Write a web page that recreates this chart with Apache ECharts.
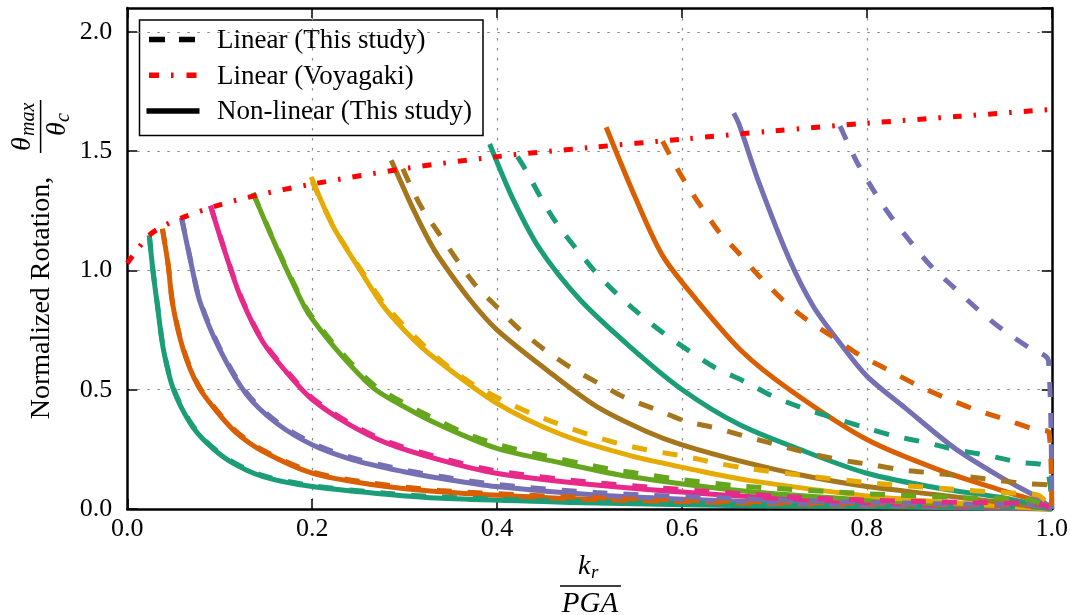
<!DOCTYPE html>
<html><head><meta charset="utf-8">
<script src="https://cdn.jsdelivr.net/npm/echarts@6/dist/echarts.min.js"></script>
<style>html,body{margin:0;padding:0;background:#fff}#c{width:1071px;height:615px}</style>
</head><body><div id="c"></div>
<script>
// ---- data ----
const xTicks = [0.0, 0.2, 0.4, 0.6, 0.8, 1.0];
const yTicks = [0.0, 0.5, 1.0, 1.5, 2.0];
const legendNames = ['Linear (This study)', 'Linear (Voyagaki)', 'Non-linear (This study)'];
const palette = ['#1b9e77', '#d95f02', '#7570b3', '#e7298a', '#66a61e', '#e6ab02', '#a6761d'];

const voyagaki = [[0,1.03],[0.023,1.145],[0.04,1.188],[0.06,1.222],[0.1,1.275],[0.14,1.315],[0.2,1.362],[0.3,1.427],[0.4,1.477],[0.5,1.515],[0.6,1.55],[0.7,1.585],[0.8,1.617],[0.9,1.646],[1.0,1.675]];

// non-linear (solid)
const nl1 = [[0.0238,1.147],[0.028,0.99],[0.033,0.84],[0.039,0.67],[0.05,0.50],[0.068,0.36],[0.086,0.277],[0.111,0.20],[0.147,0.136],[0.2,0.094],[0.28,0.062],[0.34,0.045],[0.45,0.031],[0.507,0.025],[0.672,0.014],[0.8,0.009],[0.9,0.005],[1.0,0]];
const nl2 = [[0.038,1.172],[0.0443,1.02],[0.049,0.86],[0.0605,0.669],[0.0767,0.515],[0.0965,0.41],[0.118,0.319],[0.147,0.241],[0.2,0.150],[0.262,0.104],[0.338,0.072],[0.45,0.048],[0.507,0.04],[0.6,0.031],[0.672,0.025],[0.8,0.015],[0.9,0.008],[1.0,0]];
const nl3 = [[0.0587,1.22],[0.0695,1.02],[0.0785,0.87],[0.1,0.669],[0.129,0.48],[0.161,0.361],[0.2,0.269],[0.244,0.206],[0.298,0.157],[0.338,0.129],[0.399,0.094],[0.507,0.059],[0.672,0.031],[0.8,0.017],[0.9,0.008],[1.0,0]];
const nl4 = [[0.09,1.27],[0.107,1.062],[0.1235,0.88],[0.147,0.698],[0.179,0.543],[0.2,0.459],[0.237,0.361],[0.28,0.277],[0.338,0.206],[0.399,0.15],[0.507,0.101],[0.672,0.052],[0.8,0.027],[0.9,0.013],[1.0,0]];
const nl5 = [[0.136,1.325],[0.154,1.161],[0.172,1.006],[0.192,0.845],[0.2,0.796],[0.226,0.669],[0.266,0.508],[0.305,0.417],[0.338,0.352],[0.399,0.255],[0.471,0.192],[0.543,0.136],[0.672,0.073],[0.8,0.038],[0.9,0.018],[1.0,0]];
const nl6 = [[0.199,1.392],[0.222,1.189],[0.251,1.006],[0.276,0.855],[0.302,0.74],[0.33,0.64],[0.399,0.445],[0.471,0.31],[0.543,0.225],[0.615,0.163],[0.672,0.12],[0.8,0.055],[0.9,0.025],[1.0,0]];
const nl7 = [[0.2855,1.462],[0.309,1.259],[0.327,1.12],[0.338,1.05],[0.37,0.88],[0.399,0.754],[0.453,0.585],[0.507,0.431],[0.561,0.326],[0.6,0.269],[0.672,0.192],[0.734,0.138],[0.8,0.094],[0.878,0.059],[0.968,0.017],[1.0,0]];
const nl8 = [[0.392,1.53],[0.417,1.301],[0.446,1.091],[0.489,0.88],[0.543,0.683],[0.6,0.501],[0.662,0.354],[0.734,0.24],[0.8,0.15],[0.878,0.087],[0.95,0.045],[1.0,0]];
const nl9 = [[0.518,1.6],[0.55,1.301],[0.579,1.062],[0.615,0.88],[0.665,0.66],[0.716,0.501],[0.8,0.291],[0.878,0.164],[0.95,0.073],[0.996,0.017],[1.0,0]];
const nl10 = [[0.656,1.659],[0.662,1.61],[0.683,1.371],[0.716,1.048],[0.742,0.85],[0.77,0.7],[0.8,0.557],[0.842,0.422],[0.896,0.252],[0.95,0.122],[0.986,0.045],[1.0,0]];

// linear (dashed)
const lin1 = [[0.0238,1.145],[0.028,0.992],[0.033,0.845],[0.039,0.675],[0.05,0.505],[0.068,0.365],[0.086,0.281],[0.111,0.204],[0.147,0.14],[0.2,0.098],[0.28,0.066],[0.34,0.05],[0.45,0.035],[0.507,0.03],[0.672,0.019],[0.8,0.013],[0.9,0.01],[0.99,0.007],[1.0,0]];
const lin2 = [[0.038,1.175],[0.0443,1.022],[0.049,0.865],[0.0605,0.673],[0.0767,0.52],[0.0965,0.415],[0.118,0.324],[0.147,0.246],[0.2,0.156],[0.262,0.11],[0.338,0.078],[0.45,0.055],[0.507,0.047],[0.6,0.037],[0.672,0.031],[0.8,0.022],[0.9,0.016],[0.99,0.012],[1.0,0]];
const lin3 = [[0.0587,1.222],[0.0695,1.024],[0.0785,0.875],[0.1,0.675],[0.129,0.487],[0.161,0.368],[0.2,0.277],[0.244,0.214],[0.298,0.165],[0.338,0.137],[0.399,0.103],[0.507,0.069],[0.672,0.042],[0.8,0.028],[0.9,0.02],[0.99,0.015],[1.0,0]];
const lin4 = [[0.09,1.272],[0.107,1.065],[0.1235,0.885],[0.147,0.703],[0.179,0.55],[0.2,0.466],[0.237,0.368],[0.28,0.285],[0.338,0.215],[0.399,0.16],[0.507,0.11],[0.672,0.062],[0.744,0.045],[0.813,0.036],[0.881,0.029],[0.985,0.022],[1.0,0]];
const lin5 = [[0.136,1.325],[0.154,1.165],[0.172,1.012],[0.192,0.852],[0.2,0.805],[0.226,0.68],[0.266,0.522],[0.305,0.432],[0.338,0.368],[0.363,0.322],[0.395,0.277],[0.428,0.243],[0.464,0.213],[0.496,0.187],[0.529,0.163],[0.564,0.143],[0.597,0.124],[0.665,0.096],[0.8,0.064],[0.9,0.048],[0.975,0.039],[1.0,0]];
const lin6 = [[0.2,1.372],[0.225,1.17],[0.255,0.99],[0.28,0.85],[0.323,0.677],[0.3485,0.592],[0.377,0.515],[0.408,0.452],[0.44,0.396],[0.473,0.347],[0.505,0.304],[0.537,0.269],[0.572,0.241],[0.604,0.22],[0.638,0.192],[0.669,0.171],[0.741,0.136],[0.809,0.108],[0.878,0.087],[0.946,0.069],[0.985,0.058],[1.0,0]];
const lin7 = [[0.298,1.426],[0.316,1.28],[0.336,1.161],[0.3755,0.943],[0.399,0.85],[0.424,0.754],[0.451,0.669],[0.48,0.592],[0.509,0.529],[0.539,0.466],[0.572,0.417],[0.604,0.368],[0.636,0.34],[0.669,0.304],[0.703,0.269],[0.737,0.234],[0.771,0.206],[0.806,0.185],[0.838,0.164],[0.874,0.15],[0.908,0.136],[0.943,0.119],[0.977,0.105],[0.996,0.1],[1.0,0]];
const lin8 = [[0.422,1.477],[0.428,1.441],[0.461,1.217],[0.503,1.009],[0.527,0.911],[0.552,0.824],[0.579,0.74],[0.608,0.662],[0.636,0.592],[0.669,0.532],[0.698,0.473],[0.73,0.424],[0.764,0.382],[0.797,0.342],[0.829,0.307],[0.863,0.279],[0.897,0.248],[0.932,0.223],[0.966,0.195],[0.993,0.178],[1.0,0]];
const lin9 = [[0.579,1.542],[0.6,1.392],[0.638,1.172],[0.661,1.074],[0.683,0.978],[0.708,0.88],[0.734,0.796],[0.762,0.725],[0.791,0.648],[0.822,0.585],[0.853,0.522],[0.885,0.466],[0.917,0.417],[0.95,0.375],[0.982,0.333],[0.997,0.32],[1.0,0]];
const lin10 = [[0.771,1.605],[0.789,1.456],[0.806,1.343],[0.825,1.231],[0.847,1.121],[0.869,1.02],[0.894,0.929],[0.919,0.84],[0.946,0.754],[0.975,0.677],[0.9965,0.62],[1.0,0]];

const nonlinear = [nl1, nl2, nl3, nl4, nl5, nl6, nl7, nl8, nl9, nl10];
const linear = [lin1, lin2, lin3, lin4, lin5, lin6, lin7, lin8, lin9, lin10];

// ---- chart ----
const FONT = '"Liberation Serif", "Times New Roman", serif';
const chart = echarts.init(document.getElementById('c'), null, {renderer: 'canvas'});
const series = [];
nonlinear.forEach((d, i) => series.push({
  type: 'line', data: d, showSymbol: false, silent: true, smooth: 0.3,
  lineStyle: {color: palette[i % 7], width: 5, type: 'solid', cap: 'butt'}
}));
linear.forEach((d, i) => series.push({
  type: 'line', data: d, showSymbol: false, silent: true, smooth: 0.3,
  lineStyle: {color: palette[i % 7], width: 5, type: [15, 16], cap: 'butt'}
}));
series.push({
  type: 'line', data: voyagaki, showSymbol: false, silent: true, smooth: 0.3,
  lineStyle: {color: '#ff0000', width: 5, type: [9, 12, 2.5, 12], cap: 'butt'}
});

const axisLine = {show: true, onZero: false, lineStyle: {color: '#000', width: 2.5}};
const axisTick = {show: true, inside: true, length: 10, lineStyle: {color: '#000', width: 1.5}};
const splitLine = {show: true, lineStyle: {color: '#8a8a8a', width: 1.2, type: [2.5, 7.5]}};

const option = {
  animation: false,
  backgroundColor: '#fff',
  grid: {left: 127.3, right: 17.7, top: 8, bottom: 106, containLabel: false},
  xAxis: [
    {type: 'value', min: xTicks[0], max: xTicks[xTicks.length - 1], interval: 0.2, position: 'bottom',
     axisLine, axisTick, splitLine,
     axisLabel: {show: true, margin: 7, color: '#000', fontFamily: FONT, fontSize: 26,
       formatter: v => v.toFixed(1)}},
    {type: 'value', min: xTicks[0], max: xTicks[xTicks.length - 1], interval: 0.2, position: 'top',
     axisLine, axisTick, splitLine: {show: false}, axisLabel: {show: false}}
  ],
  yAxis: [
    {type: 'value', min: yTicks[0], max: 2.1, interval: 0.5, position: 'left',
     axisLine, axisTick, splitLine,
     axisLabel: {show: true, margin: 15, color: '#000', fontFamily: FONT, fontSize: 26,
       showMaxLabel: false, formatter: v => (yTicks.indexOf(v) >= 0 ? v.toFixed(1) : '')}},
    {type: 'value', min: yTicks[0], max: 2.1, interval: 0.5, position: 'right',
     axisLine, axisTick, splitLine: {show: false}, axisLabel: {show: false}}
  ],
  series,
  graphic: [
    // y-axis title
    {type: 'group', x: 42, y: 298, rotation: Math.PI / 2, z: 100, children: [
      {type: 'text', style: {text: 'Normalized Rotation,', x: 0, y: 0, align: 'center', verticalAlign: 'middle',
        font: '28px ' + FONT, fill: '#000'}}
    ]},
    {type: 'group', x: 40.6, y: 127, rotation: Math.PI / 2, z: 100, children: [
      {type: 'text', style: {text: 'θ', x: -24, y: -18, align: 'left', verticalAlign: 'middle', font: 'italic 28px ' + FONT, fill: '#000'}},
      {type: 'text', style: {text: 'max', x: -9, y: -12, align: 'left', verticalAlign: 'middle', font: 'italic 20px ' + FONT, fill: '#000'}},
      {type: 'line', shape: {x1: -26, y1: 0, x2: 27, y2: 0}, style: {stroke: '#000', lineWidth: 1.5}},
      {type: 'text', style: {text: 'θ', x: -9, y: 17, align: 'left', verticalAlign: 'middle', font: 'italic 28px ' + FONT, fill: '#000'}},
      {type: 'text', style: {text: 'c', x: 5, y: 23, align: 'left', verticalAlign: 'middle', font: 'italic 20px ' + FONT, fill: '#000'}}
    ]},
    // x-axis title (fraction)
    {type: 'group', x: 590, y: 586, z: 100, children: [
      {type: 'text', style: {text: 'k', x: -12, y: -19, align: 'left', verticalAlign: 'middle', font: 'italic 28px ' + FONT, fill: '#000'}},
      {type: 'text', style: {text: 'r', x: 1, y: -13, align: 'left', verticalAlign: 'middle', font: 'italic 19px ' + FONT, fill: '#000'}},
      {type: 'line', shape: {x1: -30, y1: 0, x2: 31, y2: 0}, style: {stroke: '#000', lineWidth: 1.5}},
      {type: 'text', style: {text: 'PGA', x: 0, y: 18, align: 'center', verticalAlign: 'middle', font: 'italic 29px ' + FONT, fill: '#000'}}
    ]},
    // legend
    {type: 'group', x: 0, y: 0, z: 110, children: [
      {type: 'rect', shape: {x: 139.5, y: 20, width: 343.5, height: 115.5}, style: {fill: '#fff', stroke: '#000', lineWidth: 1.5}},
      {type: 'line', shape: {x1: 149, y1: 39.5, x2: 197, y2: 39.5}, style: {stroke: '#000', lineWidth: 5.5, lineDash: [16, 14]}},
      {type: 'line', shape: {x1: 149, y1: 75.3, x2: 197, y2: 75.3}, style: {stroke: '#ff0000', lineWidth: 5.5, lineDash: [10, 12, 2.5, 13]}},
      {type: 'line', shape: {x1: 146.5, y1: 111, x2: 199.5, y2: 111}, style: {stroke: '#000', lineWidth: 5.5}},
      {type: 'text', style: {text: legendNames[0], x: 217, y: 41, align: 'left', verticalAlign: 'middle', font: '27px ' + FONT, fill: '#000'}},
      {type: 'text', style: {text: legendNames[1], x: 217, y: 76.5, align: 'left', verticalAlign: 'middle', font: '27px ' + FONT, fill: '#000'}},
      {type: 'text', style: {text: legendNames[2], x: 217, y: 112, align: 'left', verticalAlign: 'middle', font: '27px ' + FONT, fill: '#000'}}
    ]}
  ]
};
chart.setOption(option);
</script>
</body></html>
